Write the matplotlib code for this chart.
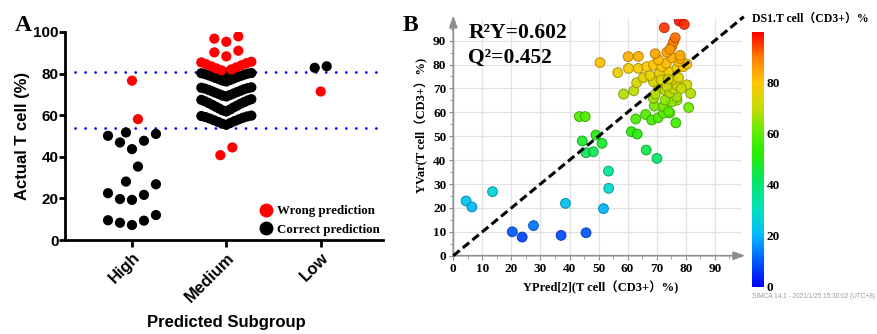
import numpy as np
import matplotlib
matplotlib.use("Agg")
import matplotlib.pyplot as plt
from matplotlib.colors import LinearSegmentedColormap, Normalize
from matplotlib.lines import Line2D

# ---------------- panel A data ----------------
groups = ["High", "Medium", "Low"]
high_vals = [7.2, 8.3, 9.3, 9.5, 12.0, 19.3, 19.7, 21.7, 22.5, 26.8,
             28.1, 35.3, 43.7, 46.9, 47.7, 50.1, 51.0, 51.7, 58.1, 76.6]
medium_vals = [40.8, 44.5,
               55.4, 55.9, 56.3, 56.8, 57.2, 57.6, 58.0, 58.4, 58.8, 59.1, 59.4, 59.6, 59.8,
               61.8, 62.3, 62.7, 63.2, 63.7, 64.1, 64.6, 65.0, 65.5, 65.9, 66.3, 66.7, 67.1, 67.4, 67.7,
               69.0, 69.4, 69.7, 70.1, 70.4, 70.8, 71.1, 71.5, 71.8, 72.2, 72.5, 72.8, 73.0, 73.2, 73.4,
               76.2, 76.6, 76.9, 77.3, 77.6, 77.9, 78.3, 78.6, 78.9, 79.2, 79.5, 79.8, 80.0, 80.2, 80.3,
               80.5, 81.6, 82.0, 82.5, 83.0, 83.5, 84.0, 84.5, 85.0, 85.4, 85.7,
               88.3, 90.2, 91.0, 95.3, 96.8, 97.9]
low_vals = [71.4, 82.8, 83.5]
lower_cut = 53.9
upper_cut = 80.6

# ---------------- panel B data ----------------
ypred = [4.4, 6.4, 13.5, 20.3, 23.7, 27.6, 37.1, 38.6, 45.7, 51.7, 53.5, 53.4,
         43.4, 45.4, 44.4, 45.7, 48.2, 49.1, 51.2, 66.4, 70.1, 61.3, 63.3,
         62.8, 66.2, 68.3, 70.5, 76.6, 74.5, 72.3, 69.2, 72.3, 74.1, 81.0,
         77.0, 75.2, 72.9, 68.9, 76.9, 81.7, 58.6, 62.1, 70.6, 72.9, 69.5, 74.5, 76.0,
         80.4, 76.9, 75.2, 68.9, 63.1, 65.4, 67.7, 72.9, 71.0, 74.1, 56.6, 71.5, 77.5, 73.5,
         78.5, 74.0,
         60.3, 63.7, 66.6, 68.9, 71.8, 73.3, 77.0, 79.2, 80.4, 77.5, 75.2, 78.1, 70.6,
         60.2, 63.7, 69.5, 73.5, 50.5, 78.1,
         75.2, 75.8, 76.4, 72.6, 77.8, 79.5, 74.6]
yvar = [22.9, 20.4, 26.8, 10.0, 7.8, 12.6, 8.5, 21.9, 9.6, 19.7, 28.2, 35.4,
        58.2, 58.2, 48.0, 43.1, 43.5, 50.5, 47.0, 44.2, 40.7, 51.9, 50.9,
        57.2, 59.1, 56.8, 57.7, 55.6, 59.7, 59.6, 62.6, 62.4, 60.3, 62.0,
        65.1, 64.4, 65.1, 65.8, 66.5, 67.9, 67.6, 69.0, 70.0, 69.3, 67.6, 68.2, 69.8,
        71.5, 71.4, 73.5, 72.8, 72.4, 74.5, 75.4, 76.3, 76.3, 77.0, 76.6, 73.5, 74.5, 71.0,
        70.0, 73.8,
        78.4, 78.4, 79.1, 79.8, 79.1, 80.5, 78.4, 79.1, 80.2, 81.2, 82.8, 82.6, 81.9,
        83.3, 83.4, 84.5, 85.1, 80.8, 83.8,
        87.5, 89.5, 91.2, 95.4, 98.2, 96.8, 86.3]
r2y = 0.602
q2 = 0.452

sans = "Liberation Sans"
serif = "Liberation Serif"
serif_cjk = ["Liberation Serif", "Noto Sans CJK SC"]


def swarm(values, edges, step, half_width):
    # GraphPad-like column scatter: bin the values, spread each bin sideways
    values = np.asarray(values, dtype=float)
    offsets = np.zeros(len(values))
    bins = np.digitize(values, edges)
    for b in np.unique(bins):
        idx = np.where(bins == b)[0]
        idx = idx[np.argsort(values[idx])]
        n = len(idx)
        s = step if n < 2 else min(step, 2 * half_width / (n - 1))
        slots = []
        if n % 2 == 1:
            slots.append(0.0)
            k = 1
            while len(slots) < n:
                slots += [-k, k]
                k += 1
        else:
            k = 0.5
            while len(slots) < n:
                slots += [-k, k]
                k += 1
        offsets[idx] = np.array(slots[:n]) * s
    return offsets


def is_wrong(group, v):
    if group == "High":
        return v > lower_cut
    if group == "Medium":
        return v < lower_cut or v > upper_cut
    return v < upper_cut


fig = plt.figure(figsize=(8.78, 3.34), dpi=100)

# ---------------- panel A ----------------
ax = fig.add_axes([0.074, 0.2814, 0.3622, 0.6228])
bin_edges = {
    "High": [0, 15, 27.5, 36, 43, 51.5, 60, 100],
    "Medium": [0, 50, 60.5, 68.2, 75, 80.45, 87, 93, 100],
    "Low": [0, 80, 100],
}
for i, (g, vals) in enumerate(zip(groups, [high_vals, medium_vals, low_vals])):
    off = swarm(vals, bin_edges[g], step=0.127, half_width=0.265)
    cols = ["#ff0000" if is_wrong(g, v) else "#000000" for v in vals]
    ax.scatter(i + off, vals, c=cols, s=54, linewidths=0, zorder=3)

for yv in (lower_cut, upper_cut):
    ax.axhline(yv, color="#0000ff", lw=2.0, linestyle=(0, (0.01, 3.6)),
               dash_capstyle="round", zorder=2)

ax.set_xlim(-0.71, 2.66)
ax.set_ylim(0, 100)
ax.set_yticks([0, 20, 40, 60, 80, 100])
ax.set_xticks(range(len(groups)))
ax.set_xticklabels(groups, rotation=45, ha="right", rotation_mode="anchor",
                   fontsize=12, fontweight="bold", family=sans)
for t in ax.get_yticklabels():
    t.set_fontsize(11)
    t.set_fontweight("bold")
    t.set_family(sans)
for side in ("top", "right"):
    ax.spines[side].set_visible(False)
for side in ("left", "bottom"):
    ax.spines[side].set_linewidth(2)
ax.tick_params(axis="y", width=2, length=4, direction="out", pad=0.5)
ax.tick_params(axis="x", width=2, length=5, direction="out", pad=2)
ax.set_ylabel("Actual T cell (%)", fontsize=12, fontweight="bold", family=sans)
ax.yaxis.set_label_coords(-0.11, 0.5)
ax.set_xlabel("Predicted Subgroup", fontsize=12, fontweight="bold", family=sans)
ax.xaxis.set_label_coords(0.508, -0.36)

handles = [Line2D([], [], marker="o", ls="", color="#ff0000", markersize=9),
           Line2D([], [], marker="o", ls="", color="#000000", markersize=9)]
ax.legend(handles, ["Wrong prediction", "Correct prediction"], loc="lower right",
          bbox_to_anchor=(1.005, -0.005), frameon=False, handletextpad=-0.2,
          labelspacing=0.5, borderaxespad=0.0,
          prop={"family": serif, "weight": "bold", "size": 9.3})

fig.text(0.027, 0.925, "A", fontsize=17, fontweight="bold", family=serif,
         ha="center", va="center")

# ---------------- panel B ----------------
cmap = LinearSegmentedColormap.from_list("simca", [
    (0.00, (0.00, 0.00, 1.00)),
    (0.10, (0.00, 0.35, 1.00)),
    (0.20, (0.00, 0.72, 1.00)),
    (0.30, (0.00, 0.88, 0.75)),
    (0.40, (0.00, 0.90, 0.45)),
    (0.52, (0.15, 0.93, 0.00)),
    (0.60, (0.35, 0.93, 0.00)),
    (0.70, (0.78, 0.86, 0.00)),
    (0.80, (1.00, 0.78, 0.00)),
    (0.90, (1.00, 0.50, 0.00)),
    (1.00, (1.00, 0.00, 0.00)),
])
norm = Normalize(vmin=0, vmax=100)

axb = fig.add_axes([0.5163, 0.2344, 0.3292, 0.7084])
axb.set_xlim(0, 99.5)
axb.set_ylim(0, 99)
axb.set_xticks(range(0, 100, 10))
axb.set_yticks(range(0, 100, 10))
axb.set_xticks(range(5, 100, 10), minor=True)
axb.set_yticks(range(5, 100, 10), minor=True)
axb.grid(True, which="major", color="#e2e2e2", lw=0.9, zorder=0)
axb.set_axisbelow(True)
for s in axb.spines.values():
    s.set_visible(False)
axb.tick_params(which="major", length=3, width=0.8, color="#8c8c8c", pad=2)
axb.tick_params(which="minor", length=2, width=0.6, color="#8c8c8c")
for t in axb.get_xticklabels() + axb.get_yticklabels():
    t.set_fontsize(9.5)
    t.set_fontweight("bold")
    t.set_family(serif)

arrow = dict(arrowstyle="-|>,head_length=0.7,head_width=0.25", color="#8c8c8c",
             lw=1.2, shrinkA=0, shrinkB=0)
axb.annotate("", xy=(100.5, 0), xytext=(0, 0), arrowprops=arrow, annotation_clip=False)
axb.annotate("", xy=(0, 100.5), xytext=(0, 0), arrowprops=arrow, annotation_clip=False)

face = cmap(norm(np.array(yvar)))
edge = face.copy()
edge[:, :3] *= 0.7
sc = axb.scatter(ypred, yvar, c=yvar, cmap=cmap, norm=norm, s=50,
                 edgecolors=edge, linewidths=0.7, alpha=0.92, zorder=3)

axb.plot([0, 100], [0, 100], color="black", lw=2.2, linestyle=(0, (2.7, 1.35)),
         clip_on=False, zorder=4)

axb.text(0.052, 0.9425, "R\u00b2Y=%.3f" % r2y, transform=axb.transAxes,
         fontsize=15.5, fontweight="bold", family=serif, va="center", ha="left")
axb.text(0.052, 0.834, "Q\u00b2=%.3f" % q2, transform=axb.transAxes,
         fontsize=15.5, fontweight="bold", family=serif, va="center", ha="left")

axb.set_xlabel("YPred[2](T cell\uff08CD3+\uff09%)", fontsize=9, fontweight="bold",
               family=serif_cjk)
axb.xaxis.set_label_coords(0.508, -0.105)
axb.set_ylabel("YVar(T cell\uff08CD3+\uff09%)", fontsize=9, fontweight="bold",
               family=serif_cjk)
axb.yaxis.set_label_coords(-0.088, 0.55)

fig.text(0.467, 0.925, "B", fontsize=17, fontweight="bold", family=serif,
         ha="center", va="center")

cax = fig.add_axes([0.8561, 0.1416, 0.0140, 0.7635])
cb = fig.colorbar(sc, cax=cax, ticks=[0, 20, 40, 60, 80])
cb.outline.set_visible(False)
cb.solids.set_alpha(1)
cax.tick_params(length=0, pad=2)
for t in cax.get_yticklabels():
    t.set_fontsize(9.5)
    t.set_fontweight("bold")
    t.set_family(serif)

fig.text(0.856, 0.943, "DS1.T cell\uff08CD3+\uff09%", fontsize=8.5, fontweight="bold",
         family=serif_cjk, ha="left", va="center")
fig.text(0.856, 0.112, "SIMCA 14.1 - 2021/1/25 15:30:02 (UTC+8)", fontsize=4.7,
         color="#9a9a9a", family="Liberation Sans", ha="left", va="center")

fig.savefig("out.png", dpi=100)
